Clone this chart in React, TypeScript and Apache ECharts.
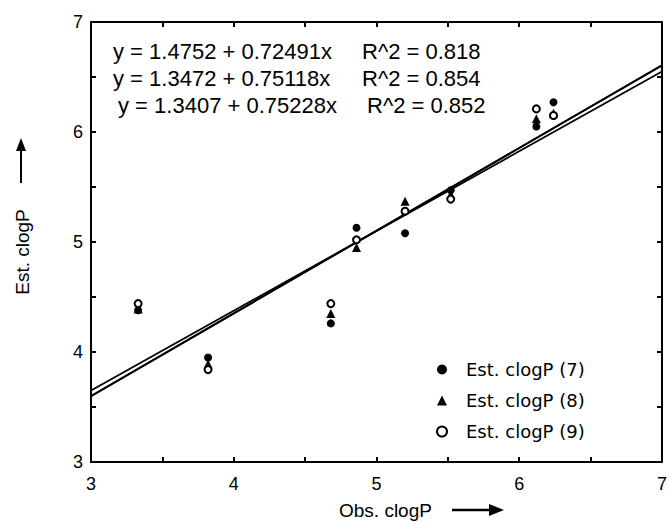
import React, { useEffect, useRef } from "react";
import * as echarts from "echarts";

const obsX = [3.33, 3.82, 4.68, 4.86, 5.2, 5.52, 6.12, 6.24];
const est7 = [4.38, 3.95, 4.26, 5.13, 5.08, 5.47, 6.05, 6.27];
const est8 = [4.39, 3.89, 4.35, 4.95, 5.37, 5.43, 6.12, 6.17];
const est9 = [4.44, 3.84, 4.44, 5.02, 5.28, 5.39, 6.21, 6.15];
const seriesNames = ["Est. clogP (7)", "Est. clogP (8)", "Est. clogP (9)"];
const intercepts = [1.4752, 1.3472, 1.3407];
const slopes = [0.72491, 0.75118, 0.75228];
const r2 = ["0.818", "0.854", "0.852"];
const xRange = [3, 7];
const yRange = [3, 7];

export default function App() {
  const ref = useRef<HTMLDivElement>(null);
  useEffect(() => {
    if (!ref.current) return;
    const chart = echarts.init(ref.current, undefined, { renderer: "svg" });
    const font = "Liberation Sans, Arial, sans-serif";
    const pts = (ys: number[]) => obsX.map((x, i) => [x, ys[i]]);
    const fitLines = intercepts.map((a, i) => ({
      type: "line",
      data: xRange.map((x) => [x, a + slopes[i] * x]),
      showSymbol: false,
      lineStyle: { color: "#000", width: 1.8 },
      z: 1,
      silent: true,
    }));
    const axisCommon = {
      type: "value",
      interval: 0.5,
      axisLine: { show: true, onZero: false, lineStyle: { color: "#000", width: 2 } },
      axisTick: { show: true, inside: true, length: 5, lineStyle: { color: "#000", width: 2 } },
      splitLine: { show: false },
    };
    const labelFmt = (v: number) => (Number.isInteger(v) ? String(v) : "");
    const eqText = intercepts.flatMap((a, i) => {
      const dx = i === 2 ? 5 : 0;
      const y = 51 + i * 27;
      return [
        {
          type: "text",
          x: 113 + dx,
          y,
          style: {
            text: `y = ${a.toFixed(4)} + ${slopes[i].toFixed(5)}x`,
            fontSize: 22,
            fontFamily: font,
            fill: "#000",
            verticalAlign: "middle",
          },
        },
        {
          type: "text",
          x: 362 + dx,
          y,
          style: {
            text: `R^2 = ${r2[i]}`,
            fontSize: 22,
            fontFamily: font,
            fill: "#000",
            verticalAlign: "middle",
          },
        },
      ];
    });
    chart.setOption({
      animation: false,
      backgroundColor: "#fff",
      grid: { left: 91, right: 1, top: 22, bottom: 61 },
      xAxis: [
        {
          ...axisCommon,
          min: xRange[0],
          max: xRange[1],
          position: "bottom",
          axisLabel: { formatter: labelFmt, color: "#000", fontSize: 18, fontFamily: font, margin: 13 },
        },
        {
          ...axisCommon,
          min: xRange[0],
          max: xRange[1],
          position: "top",
          axisLabel: { show: false },
        },
      ],
      yAxis: [
        {
          ...axisCommon,
          min: yRange[0],
          max: yRange[1],
          position: "left",
          axisLabel: { formatter: labelFmt, color: "#000", fontSize: 18, fontFamily: font, margin: 8 },
        },
        {
          ...axisCommon,
          min: yRange[0],
          max: yRange[1],
          position: "right",
          axisLabel: { show: false },
        },
      ],
      legend: {
        orient: "vertical",
        left: 431,
        top: 355,
        itemWidth: 10,
        itemHeight: 10,
        itemGap: 12,
        data: seriesNames,
        textStyle: {
          color: "#000",
          fontSize: 18,
          lineHeight: 19,
          fontFamily: "DejaVu Sans, sans-serif",
          padding: [0, 0, 0, 14],
        },
      },
      series: [
        ...fitLines,
        {
          name: seriesNames[0],
          type: "scatter",
          data: pts(est7),
          symbol: "circle",
          symbolSize: 8,
          itemStyle: { color: "#000", opacity: 1 },
          z: 3,
        },
        {
          name: seriesNames[1],
          type: "scatter",
          data: pts(est8),
          symbol: "triangle",
          symbolSize: 9,
          itemStyle: { color: "#000", opacity: 1 },
          z: 4,
        },
        {
          name: seriesNames[2],
          type: "scatter",
          data: pts(est9),
          symbol: "emptyCircle",
          symbolSize: 7,
          itemStyle: { color: "#000", borderColor: "#000", borderWidth: 2, opacity: 1 },
          z: 5,
        },
      ],
      graphic: [
        ...eqText,
        {
          type: "text",
          x: 339,
          y: 510,
          style: {
            text: "Obs. clogP",
            fontSize: 19,
            fontFamily: font,
            fill: "#000",
            verticalAlign: "middle",
          },
        },
        {
          type: "line",
          shape: { x1: 452, y1: 510, x2: 492, y2: 510 },
          style: { stroke: "#000", lineWidth: 2.5 },
        },
        {
          type: "polygon",
          shape: { points: [[489, 504], [504, 510], [489, 516]] },
          style: { fill: "#000" },
        },
        {
          type: "text",
          x: 22,
          y: 252,
          rotation: Math.PI / 2,
          style: {
            text: "Est. clogP",
            fontSize: 19,
            fontFamily: font,
            fill: "#000",
            align: "center",
            verticalAlign: "middle",
          },
        },
        {
          type: "line",
          shape: { x1: 21, y1: 183, x2: 21, y2: 148 },
          style: { stroke: "#000", lineWidth: 2 },
        },
        {
          type: "polygon",
          shape: { points: [[16, 151], [21, 138], [26, 151]] },
          style: { fill: "#000" },
        },
      ],
    });
    return () => chart.dispose();
  }, []);
  return (
    <div
      ref={ref}
      style={{ position: "fixed", left: 0, top: 0, width: 670, height: 523, background: "#fff" }}
    />
  );
}
